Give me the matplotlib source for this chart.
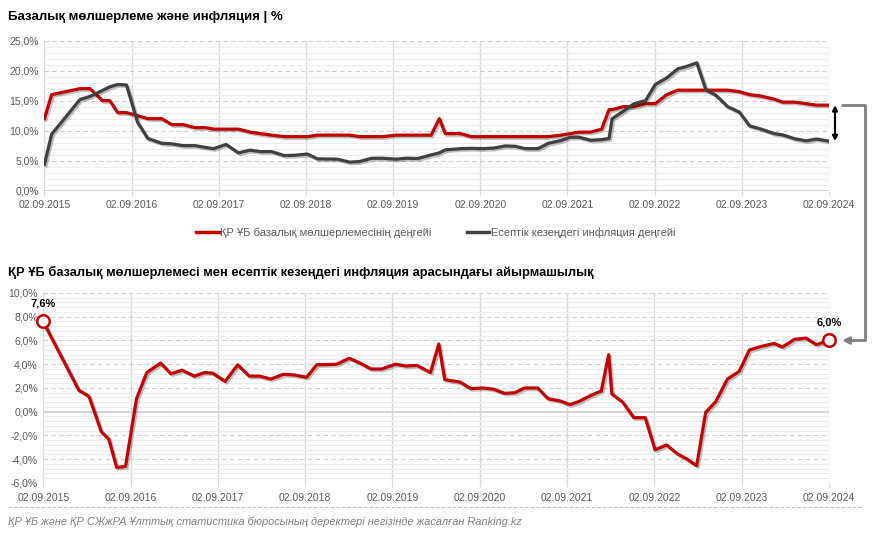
import pandas as pd
import matplotlib
matplotlib.use('Agg')
import matplotlib.pyplot as plt
import matplotlib.dates as mdates
import matplotlib.patheffects as pe
from matplotlib.patches import ConnectionPatch
from matplotlib.lines import Line2D
from matplotlib.ticker import FuncFormatter, MultipleLocator
from matplotlib.transforms import offset_copy

plt.rcParams['font.family'] = ['Liberation Sans', 'DejaVu Sans']

# Дати спостережень
dates = pd.to_datetime([
    '2015-09-02', '2015-10-02', '2016-01-29', '2016-03-11', '2016-05-02', '2016-06-02',
    '2016-07-05', '2016-08-11', '2016-09-26', '2016-11-08', '2017-01-05', '2017-02-17',
    '2017-04-05', '2017-05-26', '2017-07-08', '2017-08-11', '2017-10-02', '2017-11-23',
    '2018-01-11', '2018-02-23', '2018-04-11', '2018-06-02', '2018-07-17', '2018-09-08',
    '2018-10-20', '2019-01-11', '2019-03-05', '2019-04-14', '2019-06-05', '2019-07-20',
    '2019-09-14', '2019-10-29', '2019-12-14', '2020-02-08', '2020-03-14', '2020-04-08',
    '2020-06-11', '2020-07-26', '2020-09-14', '2020-10-29', '2020-12-14', '2021-01-26',
    '2021-03-08', '2021-05-02', '2021-06-14', '2021-08-05', '2021-09-14', '2021-10-20',
    '2021-12-08', '2022-01-23', '2022-02-23', '2022-03-08', '2022-04-23', '2022-06-08',
    '2022-07-26', '2022-09-05', '2022-10-23', '2022-12-08', '2023-01-14', '2023-02-26',
    '2023-04-05', '2023-05-17', '2023-07-05', '2023-08-23', '2023-10-05', '2023-11-23',
    '2024-01-17', '2024-02-20', '2024-04-11', '2024-05-29', '2024-07-11', '2024-09-02',
])

# Базова ставка, %
base_rate = [
    12.0, 16.0, 17.0, 17.0, 15.0, 15.0, 13.0, 13.0, 12.5, 12.0,
    12.0, 11.0, 11.0, 10.5, 10.5, 10.25, 10.25, 10.25, 9.75, 9.5,
    9.25, 9.0, 9.0, 9.0,
    9.25, 9.25, 9.25, 9.0, 9.0, 9.0, 9.25, 9.25, 9.25, 9.25,
    12.0, 9.5, 9.5, 9.0, 9.0, 9.0, 9.0, 9.0, 9.0, 9.0,
    9.0, 9.25, 9.5,
    9.75, 9.75, 10.25, 13.5, 13.5, 14.0, 14.0, 14.5, 14.5, 16.0,
    16.75, 16.75, 16.75, 16.75, 16.75, 16.75, 16.5, 16.0, 15.75, 15.25,
    14.75, 14.75, 14.5, 14.25, 14.25,
]

# Інфляція, %
inflation = [
    4.4, 9.4, 15.2, 15.7, 16.7, 17.3, 17.7, 17.6, 11.4, 8.7,
    7.9, 7.8, 7.5, 7.5, 7.2, 7.0, 7.7, 6.3, 6.75, 6.5,
    6.5, 5.85, 5.9, 6.1,
    5.3, 5.25, 4.75, 4.85, 5.4, 5.4, 5.25, 5.4, 5.35, 5.95,
    6.3, 6.8, 7.0, 7.05, 7.0, 7.1, 7.45, 7.4, 7.0, 7.0,
    7.9, 8.35, 8.9,
    8.9, 8.4, 8.5, 8.7, 12.0, 13.2, 14.5, 15.0, 17.7, 18.8,
    20.3, 20.7, 21.3, 16.8, 15.9, 14.0, 13.1, 10.8, 10.25, 9.5,
    9.3, 8.65, 8.3, 8.6, 8.25,
]

# Різниця між ставкою та інфляцією, %
spread = [
    7.6, 6.4, 1.8, 1.3, -1.7, -2.3, -4.7, -4.6, 1.1, 3.3,
    4.1, 3.2, 3.5, 3.0, 3.3, 3.25, 2.55, 3.95, 3.0, 3.0,
    2.75, 3.15, 3.1, 2.9,
    3.95, 4.0, 4.5, 4.15, 3.6, 3.6, 4.0, 3.85, 3.9, 3.3,
    5.7, 2.7, 2.5, 1.95, 2.0, 1.9, 1.55, 1.6, 2.0, 2.0,
    1.1, 0.9, 0.6,
    0.85, 1.35, 1.75, 4.8, 1.5, 0.8, -0.5, -0.5, -3.2, -2.8,
    -3.55, -3.95, -4.55, -0.05, 0.85, 2.75, 3.4, 5.2, 5.5, 5.75,
    5.45, 6.1, 6.2, 5.65, 6.0,
]

tick_dates = pd.to_datetime([f'{y}-09-02' for y in range(2015, 2025)])

title_top = 'Базалық мөлшерлеме және инфляция | %'
title_bottom = 'ҚР ҰБ базалық мөлшерлемесі мен есептік кезеңдегі инфляция арасындағы айырмашылық'
label_rate = 'ҚР ҰБ базалық мөлшерлемесінің деңгейі'
label_infl = 'Есептік кезеңдегі инфляция деңгейі'
source = 'ҚР ҰБ және ҚР СЖжРА Ұлттық статистика бюросының деректері негізінде жасалған Ranking.kz'

RED = '#c00000'
DARK = '#404040'
TXT = '#595959'

pct = FuncFormatter(lambda v, _: f'{v:.1f}%'.replace('.', ','))
shadow = [pe.SimpleLineShadow(offset=(1.2, -1.2), shadow_color='black', alpha=0.25), pe.Normal()]

fig = plt.figure(figsize=(8.72, 5.37), dpi=100)
ax1 = fig.add_axes([0.051, 0.645, 0.8997, 0.2793])
ax2 = fig.add_axes([0.0497, 0.1006, 0.901, 0.3538])


def style_axes(ax, major, minor):
    ax.set_xlim(tick_dates[0], tick_dates[-1])
    ax.set_xticks(tick_dates)
    ax.xaxis.set_major_formatter(mdates.DateFormatter('%d.%m.%Y'))
    ax.yaxis.set_major_locator(MultipleLocator(major))
    ax.yaxis.set_minor_locator(MultipleLocator(minor))
    ax.yaxis.set_major_formatter(pct)
    ax.yaxis.grid(True, which='minor', color='#ededed', lw=0.8, ls='-')
    ax.yaxis.grid(True, which='major', color='#cfcfcf', lw=0.8, ls=(0, (4, 3)))
    ax.xaxis.grid(True, which='major', color='#d9d9d9', lw=1.0)
    ax.tick_params(axis='y', which='both', length=0, labelsize=7.5, labelcolor=TXT, pad=4)
    ax.tick_params(axis='x', length=3, color='#d9d9d9', labelsize=7.5, labelcolor=TXT, pad=4)
    for s in ax.spines.values():
        s.set_visible(False)
    ax.set_axisbelow(True)


last_x = mdates.date2num(dates[-1])

# Верхній графік
style_axes(ax1, 5, 1)
ax1.set_ylim(0, 25)
ax1.axhline(0, color='#d0d0d0', lw=1.2, zorder=1)
ax1.plot(dates, base_rate, color=RED, lw=2.3, path_effects=shadow, zorder=3)
ax1.plot(dates, inflation, color=DARK, lw=2.3, path_effects=shadow, zorder=3)

# Подвійна стрілка між ставкою та інфляцією
arr_tr = offset_copy(ax1.transData, fig=fig, x=6, y=0, units='dots')
ax1.annotate('', xy=(last_x, inflation[-1]), xycoords=arr_tr,
             xytext=(last_x, base_rate[-1]), textcoords=arr_tr,
             arrowprops=dict(arrowstyle='<|-|>', color='black', lw=1.6,
                             mutation_scale=7, shrinkA=0, shrinkB=0),
             annotation_clip=False)

# Нижній графік
style_axes(ax2, 2, 0.4)
ax2.set_ylim(-6, 10)
ax2.axhline(0, color='#d0d0d0', lw=1.2, zorder=1)
ax2.plot(dates, spread, color=RED, lw=2.3, path_effects=shadow, zorder=3)
for i in (0, -1):
    ax2.plot(dates[i], spread[i], 'o', ms=9, mfc='white', mec=RED, mew=1.8, zorder=4, clip_on=False)
    ax2.annotate(f'{spread[i]:.1f}%'.replace('.', ','), xy=(dates[i], spread[i]),
                 xytext=(0, 13), textcoords='offset points', ha='center', va='center',
                 fontsize=8, fontweight='bold', color='black', annotation_clip=False)

# Сполучна стрілка
con = ConnectionPatch(
    xyA=(last_x, base_rate[-1]), coordsA=offset_copy(ax1.transData, fig=fig, x=13, y=0, units='dots'),
    xyB=(last_x, spread[-1]), coordsB=offset_copy(ax2.transData, fig=fig, x=13, y=0, units='dots'),
    connectionstyle='bar,armA=-23,armB=-23,fraction=0', arrowstyle='-|>',
    color='#808080', lw=2.0, mutation_scale=10, shrinkA=0, shrinkB=0, clip_on=False)
fig.add_artist(con)

# Підписи
fig.text(0.009, 0.968, title_top, fontsize=9.5, fontweight='bold', va='center')
fig.text(0.009, 0.4935, title_bottom, fontsize=9.3, fontweight='bold', va='center')

handles = [Line2D([], [], color=RED, lw=2.5), Line2D([], [], color=DARK, lw=2.5)]
fig.legend(handles, [label_rate, label_infl], loc='center', bbox_to_anchor=(0.5, 0.566),
           ncol=2, frameon=False, fontsize=8, labelcolor=TXT, handlelength=2.0,
           handletextpad=0.15, columnspacing=3.2)

fig.add_artist(Line2D([0.009, 0.99], [0.0559, 0.0559], color='#bfbfbf', lw=0.8, ls=(0, (3, 2))))
fig.text(0.009, 0.028, source, fontsize=7.9, style='italic', color='#7f7f7f', va='center')

fig.savefig('out.png', dpi=100)
